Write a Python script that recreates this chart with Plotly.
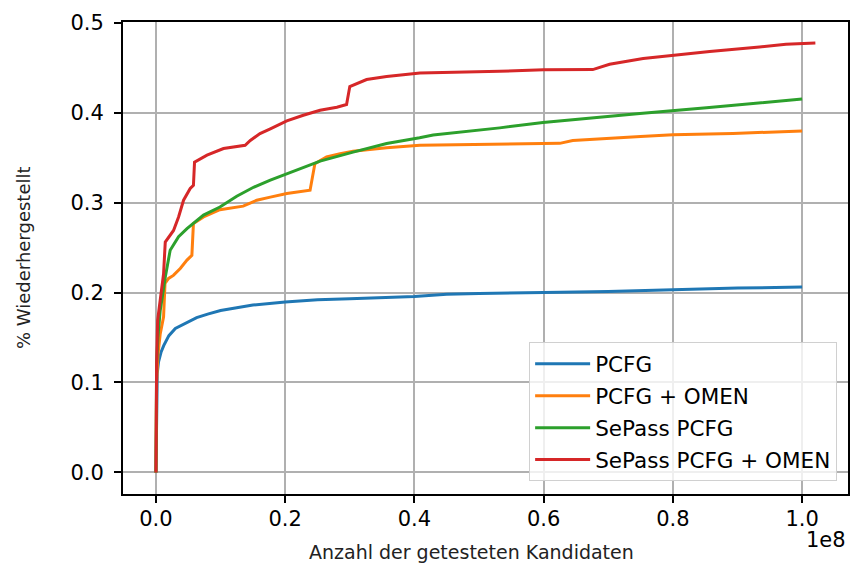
import plotly.graph_objects as go

# x values in units of 1e8 tested candidates; y = fraction recovered
pcfg_x = [0, 0.0005, 0.001, 0.002, 0.004, 0.008, 0.012, 0.02, 0.03, 0.048, 0.063, 0.08, 0.1, 0.125,
          0.15, 0.2, 0.25, 0.3, 0.35, 0.4, 0.45, 0.5, 0.6, 0.7, 0.8, 0.9, 1.0]
pcfg_y = [0.0, 0.06, 0.09, 0.11, 0.123, 0.134, 0.141, 0.152, 0.16, 0.167, 0.172, 0.176, 0.180, 0.183,
          0.186, 0.1895, 0.192, 0.193, 0.194, 0.1955, 0.198, 0.199, 0.200, 0.201, 0.203, 0.205, 0.206]

omen_x = [0, 0.0005, 0.001, 0.003, 0.0066, 0.0118, 0.014, 0.0195, 0.027, 0.0376, 0.048, 0.0556, 0.058,
          0.0736, 0.099, 0.135, 0.156, 0.177, 0.2025, 0.2385, 0.246, 0.264, 0.285, 0.305, 0.357, 0.4085,
          0.5, 0.6, 0.625, 0.645, 0.7, 0.75, 0.8, 0.893, 1.0]
omen_y = [0.0, 0.07, 0.1, 0.13, 0.154, 0.173, 0.21, 0.2156, 0.219, 0.2267, 0.236, 0.2414, 0.2767,
          0.284, 0.292, 0.296, 0.3026, 0.306, 0.310, 0.3137, 0.3433, 0.3507, 0.3544, 0.357, 0.361, 0.3637,
          0.3648, 0.3655, 0.3658, 0.369, 0.371, 0.3735, 0.3755, 0.3768, 0.3796]

sepass_x = [0, 0.0005, 0.001, 0.003, 0.0066, 0.0144, 0.022, 0.035, 0.048, 0.0736, 0.099, 0.125, 0.151,
            0.177, 0.2025, 0.233, 0.254, 0.305, 0.357, 0.408, 0.429, 0.532, 0.599, 0.749, 0.8, 0.852, 1.0]
sepass_y = [0.0, 0.08, 0.12, 0.15, 0.18, 0.217, 0.247, 0.262, 0.271, 0.286, 0.295, 0.307, 0.317,
            0.325, 0.332, 0.340, 0.346, 0.356, 0.3656, 0.372, 0.375, 0.383, 0.389, 0.399, 0.402, 0.4055, 0.415]

both_x = [0, 0.0005, 0.001, 0.0026, 0.0118, 0.0144, 0.0272, 0.035, 0.040, 0.0427, 0.053, 0.058, 0.0597,
          0.079, 0.1045, 0.138, 0.146, 0.161, 0.177, 0.2025, 0.228, 0.254, 0.28, 0.295, 0.300, 0.326,
          0.357, 0.4085, 0.532, 0.6, 0.676, 0.702, 0.754, 0.80, 0.857, 0.934, 0.975, 1.0205]
both_y = [0.0, 0.08, 0.12, 0.169, 0.221, 0.256, 0.269, 0.284, 0.295, 0.3026, 0.3156, 0.319, 0.345,
          0.3526, 0.360, 0.3637, 0.369, 0.3767, 0.382, 0.3907, 0.397, 0.4026, 0.406, 0.409, 0.429, 0.4367,
          0.440, 0.444, 0.446, 0.4475, 0.4478, 0.4537, 0.46, 0.4637, 0.468, 0.473, 0.476, 0.4773]

names = ["PCFG", "PCFG + OMEN", "SePass PCFG", "SePass PCFG + OMEN"]
colors = ["#1f77b4", "#ff7f0e", "#2ca02c", "#d62728"]
series = [(pcfg_x, pcfg_y), (omen_x, omen_y), (sepass_x, sepass_y), (both_x, both_y)]

x_ticks = [0.0, 0.2, 0.4, 0.6, 0.8, 1.0]
x_ticktext = ["0.0", "0.2", "0.4", "0.6", "0.8", "1.0"]
y_ticks = [0.0, 0.1, 0.2, 0.3, 0.4, 0.5]
y_ticktext = ["0.0", "0.1", "0.2", "0.3", "0.4", "0.5"]

FONT = "DejaVu Sans"

fig = go.Figure()
for (xs, ys), name, c in zip(series, names, colors):
    fig.add_trace(go.Scatter(x=xs, y=ys, mode="lines", name=name, legendgroup=name,
                             line=dict(color=c, width=3)))

axis_common = dict(showline=True, linecolor="black", linewidth=1.8, mirror=True,
                   showgrid=True, gridcolor="#b0b0b0", gridwidth=1.8, zeroline=False,
                   ticks="outside", ticklen=7, tickwidth=1.5, tickcolor="black",
                   automargin=False,
                   tickfont=dict(family=FONT, size=21, color="black"))

fig.update_layout(
    width=853, height=565, autosize=False,
    margin=dict(l=123, r=5, t=22, b=71),
    paper_bgcolor="white", plot_bgcolor="white",
    font=dict(family=FONT, color="black"),
    xaxis=dict(range=[-0.051, 1.071], tickvals=x_ticks, ticktext=x_ticktext,
               ticklabelstandoff=-2, **axis_common),
    yaxis=dict(range=[-0.024, 0.5007], tickvals=y_ticks, ticktext=y_ticktext,
               ticklabelstandoff=6, **axis_common),
    legend=dict(x=0.985, y=0.027, xanchor="right", yanchor="bottom",
                bgcolor="rgba(255,255,255,0.8)", bordercolor="#d0d0d0", borderwidth=1,
                font=dict(family=FONT, size=21.5, color="black"),
                itemwidth=55, tracegroupgap=1, traceorder="grouped"),
    showlegend=True,
)

# axis titles
fig.add_annotation(text="Anzahl der getesteten Kandidaten", xref="paper", yref="paper",
                   x=0.480, y=0, xanchor="center", yanchor="middle", yshift=-58,
                   showarrow=False, font=dict(family=FONT, size=19, color="#222"))
fig.add_annotation(text="% Wiederhergestellt", xref="paper", yref="paper",
                   x=0, y=0.5, xanchor="center", yanchor="middle", xshift=-100, textangle=-90,
                   showarrow=False, font=dict(family=FONT, size=18, color="#222"))
fig.add_annotation(text="1e8", xref="paper", yref="paper", x=1.0, y=0, xanchor="right",
                   yanchor="middle", yshift=-46, xshift=0, showarrow=False,
                   font=dict(family=FONT, size=21, color="black"))

fig.write_html("out.html", config={"displayModeBar": False},
               post_script="document.body.style.margin='0';document.body.style.padding='0';")
